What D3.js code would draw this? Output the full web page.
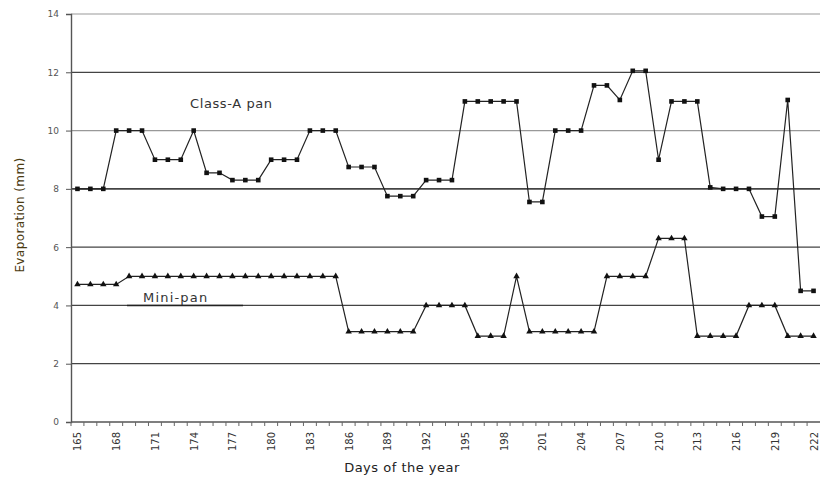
<!DOCTYPE html>
<html>
<head>
<meta charset="utf-8">
<script src="https://cdn.jsdelivr.net/npm/d3@7/dist/d3.min.js"></script>
<style>
  html, body { margin: 0; padding: 0; background: #fff; }
  svg { display: block; }
  text { font-family: "DejaVu Sans", Verdana, sans-serif; }
</style>
</head>
<body>
<svg id="chart" width="820" height="480"></svg>
<script>
// ---- data ----
const days = d3.range(165, 223); // 165 .. 222
const classAPan = [
  8, 8, 8, 10, 10, 10, 9, 9, 9, 10,
  8.55, 8.55, 8.3, 8.3, 8.3, 9, 9, 9, 10, 10,
  10, 8.75, 8.75, 8.75, 7.75, 7.75, 7.75, 8.3, 8.3, 8.3,
  11, 11, 11, 11, 11, 7.55, 7.55, 10, 10, 10,
  11.55, 11.55, 11.05, 12.05, 12.05, 9, 11, 11, 11, 8.05,
  8, 8, 8, 7.05, 7.05, 11.05, 4.5, 4.5
];
const miniPan = [
  4.72, 4.72, 4.72, 4.72, 5, 5, 5, 5, 5, 5,
  5, 5, 5, 5, 5, 5, 5, 5, 5, 5,
  5, 3.1, 3.1, 3.1, 3.1, 3.1, 3.1, 4, 4, 4,
  4, 2.95, 2.95, 2.95, 5, 3.1, 3.1, 3.1, 3.1, 3.1,
  3.1, 5, 5, 5, 5, 6.3, 6.3, 6.3, 2.95, 2.95,
  2.95, 2.95, 4, 4, 4, 2.95, 2.95, 2.95
];
const yTicks = [0, 2, 4, 6, 8, 10, 12, 14];
const xLabelDays = days.filter((d, i) => i % 3 === 0);

// ---- layout ----
const svg = d3.select("#chart");
const pL = 71, pR = 820, pT = 14, pB = 422;

const x = d3.scaleBand().domain(days).range([pL, pR]).padding(0);
const cx = d => x(d) + x.bandwidth() / 2;
const y = d3.scaleLinear().domain([0, 14]).range([pB, pT]);

// gridlines
svg.append("g").selectAll("line")
  .data(yTicks.filter(v => v > 0))
  .join("line")
  .attr("x1", pL).attr("x2", pR)
  .attr("y1", d => y(d)).attr("y2", d => y(d))
  .attr("stroke", d => (d === 10 || d === 14) ? "#999" : "#444")
  .attr("stroke-width", d => d === 8 ? 1.7 : 1.2);

// annotation segment under "Mini-pan"
svg.append("line")
  .attr("x1", 127).attr("x2", 243)
  .attr("y1", y(4)).attr("y2", y(4))
  .attr("stroke", "#222").attr("stroke-width", 1.6);

// y axis
const yAxis = d3.axisLeft(y).tickValues(yTicks).tickSize(5).tickPadding(7);
const gy = svg.append("g").attr("transform", `translate(${pL},0)`).call(yAxis);
gy.select(".domain").attr("stroke", "#555").attr("stroke-width", 1.4);
gy.selectAll(".tick line").attr("stroke", "#555");
gy.selectAll(".tick text").attr("font-size", 9).attr("fill", "#555");

// x axis (category ticks at band boundaries)
const gx = svg.append("g");
gx.append("line")
  .attr("x1", pL).attr("x2", pR)
  .attr("y1", pB).attr("y2", pB)
  .attr("stroke", "#555").attr("stroke-width", 1.4);
gx.selectAll("line.tk")
  .data(days)
  .join("line").attr("class", "tk")
  .attr("x1", d => x(d)).attr("x2", d => x(d))
  .attr("y1", pB).attr("y2", pB + 4)
  .attr("stroke", "#666");
gx.selectAll("text.lbl")
  .data(xLabelDays)
  .join("text").attr("class", "lbl")
  .attr("transform", d => `translate(${cx(d) + 4},${pB + 10}) rotate(-90)`)
  .attr("text-anchor", "end")
  .attr("font-size", 10)
  .attr("fill", "#333")
  .text(d => d);

// lines
const lineGen = vals => d3.line()
  .x((v, i) => cx(days[i]))
  .y(v => y(v))(vals);

svg.append("path")
  .attr("d", lineGen(classAPan))
  .attr("fill", "none").attr("stroke", "#222").attr("stroke-width", 1.2);
svg.append("path")
  .attr("d", lineGen(miniPan))
  .attr("fill", "none").attr("stroke", "#222").attr("stroke-width", 1.2);

// markers
svg.append("g").selectAll("rect")
  .data(classAPan)
  .join("rect")
  .attr("x", (v, i) => cx(days[i]) - 2.3)
  .attr("y", v => y(v) - 2.3)
  .attr("width", 4.6).attr("height", 4.6)
  .attr("fill", "#111");

const tri = d3.symbol().type(d3.symbolTriangle).size(18);
svg.append("g").selectAll("path")
  .data(miniPan)
  .join("path")
  .attr("d", tri)
  .attr("transform", (v, i) => `translate(${cx(days[i])},${y(v)})`)
  .attr("fill", "#111");

// series labels
svg.append("text")
  .attr("x", 190).attr("y", 108)
  .attr("font-size", 13).attr("letter-spacing", 0.6).attr("fill", "#333")
  .text("Class-A pan");
svg.append("text")
  .attr("x", 143).attr("y", 302)
  .attr("font-size", 13).attr("letter-spacing", 1.2).attr("fill", "#333")
  .text("Mini-pan");

// axis titles
svg.append("text")
  .attr("transform", `translate(24,${215}) rotate(-90)`)
  .attr("text-anchor", "middle")
  .attr("font-size", 12).attr("letter-spacing", 0.4).attr("fill", "#4a3a10")
  .text("Evaporation (mm)");
svg.append("text")
  .attr("x", 402).attr("y", 472)
  .attr("text-anchor", "middle")
  .attr("font-size", 13).attr("letter-spacing", 0.5).attr("fill", "#222")
  .text("Days of the year");
</script>
</body>
</html>
